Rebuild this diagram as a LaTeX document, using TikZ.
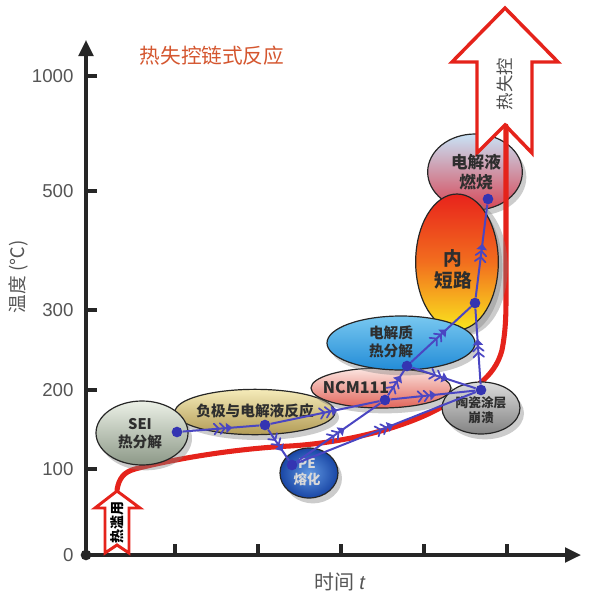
\documentclass[tikz,border=0pt]{standalone}
\usepackage{fontspec}
\setmainfont{Noto Sans CJK SC}
\newfontfamily\lat{Liberation Sans}
\usetikzlibrary{shapes.geometric,shadows,decorations.markings,arrows.meta}
\definecolor{axc}{HTML}{262626}
\definecolor{grtxt}{HTML}{555555}
\definecolor{ttl}{HTML}{D4562F}
\definecolor{rd}{HTML}{E5231B}
\definecolor{bl}{HTML}{4A46C2}
\definecolor{bld}{HTML}{3434B2}
\definecolor{etx}{HTML}{2E2E2E}
\definecolor{negtop}{RGB}{245,235,185}
\definecolor{negbot}{RGB}{178,155,85}
\definecolor{seitop}{RGB}{235,240,230}
\definecolor{seibot}{RGB}{140,152,135}
\definecolor{pein}{RGB}{95,150,225}
\definecolor{peout}{RGB}{25,70,165}
\definecolor{ncmtop}{RGB}{252,230,225}
\definecolor{ncmbot}{RGB}{225,100,90}
\definecolor{isctop}{RGB}{232,35,28}
\definecolor{iscmid}{RGB}{242,110,30}
\definecolor{iscbot}{RGB}{250,230,30}
\definecolor{eletop}{RGB}{120,200,240}
\definecolor{elebot}{RGB}{35,140,215}
\definecolor{certop}{RGB}{220,220,220}
\definecolor{cerbot}{RGB}{130,130,130}
\definecolor{combtop}{RGB}{200,226,246}
\definecolor{combbot}{RGB}{215,70,85}
\tikzset{
  axisline/.style={draw=axc,line width=2.4pt},
  ticklab/.style={font=\lat\fontsize{14}{16}\selectfont,text=grtxt,anchor=east,inner sep=1pt},
  ell/.style={ellipse,draw=black!85,line width=0.9pt,inner sep=0pt,
    drop shadow={shadow xshift=3pt,shadow yshift=-4pt,opacity=0.4,fill=gray}},
  etext/.style={align=center,font=\bfseries\fontsize{11}{13.5}\selectfont,text=etx,inner sep=0pt},
  bline/.style={draw=bl,line width=1.5pt},
  dot/.style={circle,fill=bld,inner sep=0pt,minimum size=8pt},
  chev/.style={postaction={decorate,decoration={markings,mark=at position #1 with {
      \draw[bl,line width=1.3pt,line cap=round,line join=round]
        (-8pt,4pt)--(-4.5pt,0pt)--(-8pt,-4pt) (-3.5pt,4pt)--(0pt,0pt)--(-3.5pt,-4pt);
      \fill[bl] (1pt,4pt)--(5.5pt,0pt)--(1pt,-4pt)--cycle;}}}},
  chev/.default=0.5,
  hollow/.style={draw=rd,fill=white,line width=2.6pt,line join=miter}
}
\begin{document}
\begin{tikzpicture}[x=0.75pt,y=-0.75pt]
\useasboundingbox (0,0) rectangle (591,601);

% title
\node[font=\fontsize{15.5}{18}\selectfont,text=ttl] (title) at (212,56) {热失控链式反应};

% axes
\node[circle,fill=axc,inner sep=0pt,minimum size=8pt] (o) at (86,555) {};
\coordinate (ytip) at (86,40);
\coordinate (xtip) at (581,555);
\draw[axisline,-{Triangle[length=12pt,width=11pt]}] (o.center) -- (ytip);
\draw[axisline,-{Triangle[length=12pt,width=11pt]}] (o.center) -- (xtip);
\foreach \yy in {76,191,310,390,469} {\draw[axisline] (86,\yy) -- (97,\yy);}
\foreach \xx in {175,258,341,424,507} {\draw[axisline] (\xx,555) -- (\xx,544);}
\node[ticklab] (t1000) at (75,76) {1000};
\node[ticklab] (t500) at (75,191) {500};
\node[ticklab] (t300) at (75,310) {300};
\node[ticklab] (t200) at (75,390) {200};
\node[ticklab] (t100) at (75,469) {100};
\node[ticklab] (t0) at (75,555) {0};
\node[rotate=90,font=\fontsize{14}{16}\selectfont,text=grtxt] (ylab) at (18,277) {温度 (℃)};
\node[font=\fontsize{15}{17}\selectfont,text=grtxt] (xlab) at (340,582) {时间 {\lat\itshape t}};

% combustion ellipse (behind arrow)
\node[ell,minimum width=71pt,minimum height=57pt,top color=combtop,bottom color=combbot] (comb) at (475,172) {};

% big hollow arrow
\draw[hollow] (505,8) -- (558,62) -- (532,62) -- (532,153) -- (505,125) -- (477,153) -- (477,62) -- (452,62) -- cycle;
\node[rotate=90,font=\fontsize{13}{15}\selectfont,text=black!70] (rl) at (505,84) {热失控};

% small hollow arrow
\draw[hollow,line width=2.2pt] (117,491) -- (140,508) -- (129,508) -- (129,553) -- (117,545) -- (105,553) -- (105,508) -- (95,508) -- cycle;
\node[rotate=90,font=\bfseries\fontsize{10.5}{12}\selectfont,text=black] (ta) at (117,522) {热滥用};

% red temperature curve
\coordinate (cstart) at (117,490);
\coordinate (cend) at (506,126);
\draw[rd,line width=3.8pt,line cap=round] (cstart) .. controls (119,478) and (124,472) .. (135,469)
  .. controls (170,460) and (230,449) .. (290,446)
  .. controls (340,443) and (400,430) .. (440,408)
  .. controls (470,392) and (495,378) .. (502,350)
  .. controls (505,335) and (506,320) .. (506,300) -- (cend);

% ellipses
\node[ell,minimum width=120pt,minimum height=34pt,top color=negtop,bottom color=negbot] (neg) at (255,412) {};
\node[ell,minimum width=69pt,minimum height=48pt,top color=seitop,bottom color=seibot] (sei) at (142,433) {};
\node[ell,minimum width=43.5pt,minimum height=37.5pt,inner color=pein,outer color=peout] (pe) at (309,473) {};
\node[ell,minimum width=105pt,minimum height=30pt,top color=ncmtop,bottom color=ncmbot] (ncm) at (381,388) {};
\node[ell,minimum width=62pt,minimum height=102pt,top color=isctop,bottom color=iscbot,middle color=iscmid,drop shadow={shadow xshift=7pt,shadow yshift=-4pt,opacity=0.4,fill=gray}] (isc) at (457,262) {};
\node[ell,minimum width=111pt,minimum height=40.5pt,top color=eletop,bottom color=elebot] (ele) at (401,343) {};
\node[ell,minimum width=58.5pt,minimum height=39pt,top color=certop,bottom color=cerbot] (cer) at (481,408) {};

% ellipse texts
\node[etext] (seit) at (140,434) {SEI\\热分解};
\node[etext] (negt) at (255,411) {负极与电解液反应};
\node[etext,font=\bfseries\fontsize{10}{12.5}\selectfont,text=white!85!black] (pet) at (307,472) {PE\\熔化};
\node[etext,font=\bfseries\fontsize{12}{14}\selectfont] (ncmt) at (356,388) {NCM111};
\node[etext] (elet) at (391,342) {电解质\\热分解};
\node[etext,font=\bfseries\fontsize{9.5}{11.5}\selectfont] (cert) at (481,410) {陶瓷涂层\\崩溃};
\node[etext,font=\bfseries\fontsize{14}{16.5}\selectfont] (isct) at (453,269) {内\\短路};
\node[etext,font=\bfseries\fontsize{12.5}{14.5}\selectfont] (combt) at (476,172) {电解液\\燃烧};

% dots
\node[dot] (dsei) at (177,432) {};
\node[dot] (dneg) at (265,425) {};
\node[dot] (dpe) at (292,465) {};
\node[dot] (dncm) at (385,400) {};
\node[dot] (dele) at (407,366) {};
\node[dot] (dcer) at (481,390) {};
\node[dot] (disc) at (475,303) {};
\node[dot] (dcomb) at (488,199) {};

% blue reaction links
\draw[bline,chev=0.55] (dsei) -- (dneg);
\draw[bline,chev=0.55] (dneg) -- (dncm);
\draw[bline,chev=0.5] (dneg) -- (dpe);
\draw[bline,chev=0.5] (dpe) -- (dncm);
\draw[bline,chev=0.5] (dpe) -- (dcer);
\draw[bline,chev=0.55] (dncm) -- (dele);
\draw[bline,chev=0.45] (dncm) -- (dcer);
\draw[bline,chev=0.45] (dele) -- (dcer);
\draw[bline,chev=0.5] (dele) -- (disc);
\draw[bline,chev=0.5] (dcer) -- (disc);
\draw[bline,chev=0.5] (disc) -- (dcomb);
\end{tikzpicture}
\end{document}
